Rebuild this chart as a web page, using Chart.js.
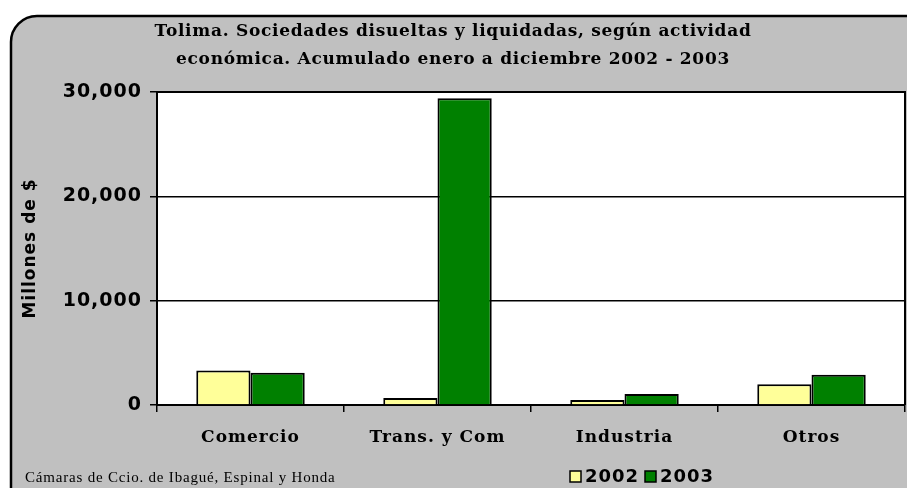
<!DOCTYPE html>
<html>
<head>
<meta charset="utf-8">
<script src="https://cdn.jsdelivr.net/npm/chart.js@4"></script>
<style>
  html, body { margin: 0; padding: 0; background: #fff; }
  #wrap { width: 907px; height: 488px; }
</style>
</head>
<body>
<div id="wrap"><canvas id="chart" width="907" height="488"></canvas></div>
<script>
// data
const categories = ['Comercio', 'Trans. y Com', 'Industria', 'Otros'];
const series2002 = [3300, 680, 480, 2000];
const series2003 = [3100, 29400, 1050, 2900];
const seriesLabels = ['2002', '2003'];
const yTicks = [0, 10000, 20000, 30000];
const titleLines = ['Tolima. Sociedades disueltas y liquidadas, según actividad',
  'económica. Acumulado enero a diciembre 2002 - 2003'];
const sourceText = 'Cámaras de Ccio. de Ibagué, Espinal y Honda';

const serif = '"DejaVu Serif", "Liberation Serif", serif';
const sans = '"DejaVu Sans", Verdana, sans-serif';

// gray rounded frame, white plot area, title, source note and legend
const frame = {
  id: 'frame',
  beforeDraw(chart) {
    const ctx = chart.ctx;
    const a = chart.chartArea;
    ctx.save();
    ctx.fillStyle = '#fff';
    ctx.fillRect(0, 0, chart.width, chart.height);
    ctx.beginPath();
    ctx.roundRect(11, 16, 920, 500, 26);
    ctx.fillStyle = '#c0c0c0';
    ctx.fill();
    ctx.lineWidth = 2.5;
    ctx.strokeStyle = '#000';
    ctx.stroke();
    ctx.fillStyle = '#fff';
    ctx.fillRect(a.left, a.top, a.right - a.left, a.bottom - a.top);
    ctx.restore();
    // the reference spreads its letters a little
    ctx.letterSpacing = '1px';
  },
  afterDraw(chart) {
    const ctx = chart.ctx;
    const a = chart.chartArea;
    ctx.save();
    ctx.strokeStyle = '#000';
    ctx.lineWidth = 2;
    ctx.beginPath();
    ctx.moveTo(a.left, a.top);
    ctx.lineTo(a.right, a.top);
    ctx.lineTo(a.right, a.bottom);
    ctx.stroke();

    // title
    ctx.fillStyle = '#000';
    ctx.textAlign = 'center';
    ctx.textBaseline = 'middle';
    ctx.letterSpacing = '0.7px';
    ctx.font = 'bold 17px ' + serif;
    ctx.fillText(titleLines[0], 453, 32);
    ctx.fillText(titleLines[1], 453, 60);

    // source note
    ctx.textAlign = 'left';
    ctx.letterSpacing = '0.8px';
    ctx.font = '15px "Liberation Serif", serif';
    ctx.fillText(sourceText, 25, 478);

    // legend
    ctx.letterSpacing = '1px';
    ctx.font = 'bold 18px ' + sans;
    let x = 570;
    chart.data.datasets.forEach(ds => {
      ctx.fillStyle = ds.backgroundColor;
      ctx.fillRect(x, 471, 11, 11);
      ctx.lineWidth = 1.5;
      ctx.strokeRect(x, 471, 11, 11);
      ctx.fillStyle = '#000';
      ctx.fillText(ds.label, x + 15, 477);
      x += 75;
    });
    ctx.restore();
    ctx.letterSpacing = '0px';
  }
};

new Chart(document.getElementById('chart'), {
  type: 'bar',
  data: {
    labels: categories,
    datasets: [
      { label: seriesLabels[0], data: series2002, backgroundColor: '#ffff99', borderColor: '#000', borderWidth: 2 },
      { label: seriesLabels[1], data: series2003, backgroundColor: '#008000', borderColor: '#000', borderWidth: 2 }
    ]
  },
  options: {
    responsive: false,
    animation: false,
    layout: { padding: { left: 11, right: 2, top: 92, bottom: 33 } },
    datasets: { bar: { barPercentage: 1, categoryPercentage: 0.58 } },
    plugins: {
      legend: { display: false },
      title: { display: false },
      tooltip: { enabled: false }
    },
    scales: {
      x: {
        afterFit(scale) { scale.height = 50; },
        grid: { offset: true, drawOnChartArea: false, drawTicks: true, tickLength: 7, color: '#000', lineWidth: 1.5 },
        border: { display: true, color: '#000', width: 2 },
        ticks: { color: '#000', font: { family: serif, size: 17, weight: 'bold' }, padding: 15 }
      },
      y: {
        min: 0,
        max: 30000,
        afterFit(scale) { scale.width = 146; },
        afterBuildTicks(scale) { scale.ticks = yTicks.map(v => ({ value: v })); },
        grid: { color: '#000', lineWidth: 1.5, tickLength: 7, drawTicks: true },
        border: { display: true, color: '#000', width: 2 },
        ticks: {
          color: '#000',
          font: { family: sans, size: 19, weight: 'bold' },
          padding: 8,
          callback: v => v.toLocaleString('en-US')
        },
        title: {
          display: true,
          text: 'Millones de $',
          color: '#000',
          font: { family: sans, size: 17, weight: 'bold' },
          padding: { top: 9, bottom: 0 }
        }
      }
    }
  },
  plugins: [frame]
});
</script>
</body>
</html>
